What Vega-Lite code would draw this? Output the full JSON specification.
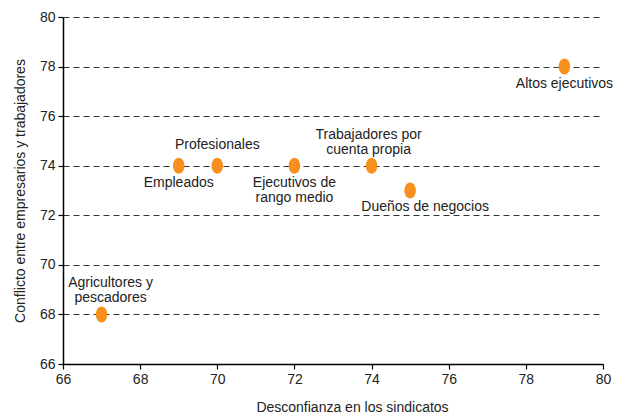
{
  "$schema": "https://vega.github.io/schema/vega-lite/v6.json",
  "width": 540,
  "height": 347,
  "autosize": {"type": "none"},
  "padding": {"left": 63, "top": 17, "right": 16, "bottom": 51},
  "background": "white",
  "config": {
    "view": {"stroke": null},
    "font": "Liberation Sans",
    "axis": {
      "labelFont": "Liberation Sans",
      "titleFont": "Liberation Sans",
      "labelFontSize": 14,
      "titleFontSize": 14,
      "titleFontWeight": "normal",
      "labelColor": "#222",
      "titleColor": "#222",
      "domainColor": "#000",
      "domainWidth": 1.5,
      "tickColor": "#000",
      "tickSize": 5,
      "tickWidth": 1.2,
      "labelFlush": false
    }
  },
  "data": {
    "values": [
      {"grupo": "Agricultores y pescadores", "lineas": ["Agricultores y", "pescadores"], "sindicatos": 67, "conflicto": 68, "pos": "arriba"},
      {"grupo": "Empleados", "lineas": ["Empleados"], "sindicatos": 69, "conflicto": 74, "pos": "abajo"},
      {"grupo": "Profesionales", "lineas": ["Profesionales"], "sindicatos": 70, "conflicto": 74, "pos": "arriba"},
      {"grupo": "Ejecutivos de rango medio", "lineas": ["Ejecutivos de", "rango medio"], "sindicatos": 72, "conflicto": 74, "pos": "abajo"},
      {"grupo": "Trabajadores por cuenta propia", "lineas": ["Trabajadores por", "cuenta propia"], "sindicatos": 74, "conflicto": 74, "pos": "arriba"},
      {"grupo": "Dueños de negocios", "lineas": ["Dueños de negocios"], "sindicatos": 75, "conflicto": 73, "pos": "abajo"},
      {"grupo": "Altos ejecutivos", "lineas": ["Altos ejecutivos"], "sindicatos": 79, "conflicto": 78, "pos": "abajo"}
    ]
  },
  "encoding": {
    "x": {
      "field": "sindicatos", "type": "quantitative",
      "scale": {"domain": [66, 80], "nice": false, "zero": false},
      "axis": {"values": [66, 68, 70, 72, 74, 76, 78, 80], "grid": false, "title": "Desconfianza en los sindicatos", "titlePadding": 14, "titleX": 289, "labelPadding": 3}
    },
    "y": {
      "field": "conflicto", "type": "quantitative",
      "scale": {"domain": [66, 80], "nice": false, "zero": false},
      "axis": {"values": [66, 68, 70, 72, 74, 76, 78, 80], "grid": true, "gridColor": "#333", "gridDash": [6, 4], "gridWidth": 1, "title": "Conflicto entre empresarios y trabajadores", "titlePadding": 12, "labelPadding": 3}
    }
  },
  "layer": [
    {
      "mark": {"type": "point", "shape": "M -0.72 0 A 0.72 1 0 1 0 0.72 0 A 0.72 1 0 1 0 -0.72 0 Z", "size": 256, "filled": true, "color": "#f7901e", "opacity": 1}
    },
    {
      "transform": [{"filter": "datum.grupo === 'Profesionales'"}],
      "mark": {"type": "text", "baseline": "bottom", "align": "center", "dy": -14, "fontSize": 14, "color": "#222", "lineHeight": 15},
      "encoding": {"text": {"field": "lineas"}}
    },
    {
      "transform": [{"filter": "datum.grupo === 'Trabajadores por cuenta propia'"}],
      "mark": {"type": "text", "baseline": "bottom", "align": "center", "dy": -24, "dx": -3, "fontSize": 14, "color": "#222", "lineHeight": 15},
      "encoding": {"text": {"field": "lineas"}}
    },
    {
      "transform": [{"filter": "datum.grupo === 'Agricultores y pescadores'"}],
      "mark": {"type": "text", "baseline": "bottom", "align": "center", "dy": -24, "dx": 9, "fontSize": 14, "color": "#222", "lineHeight": 15},
      "encoding": {"text": {"field": "lineas"}}
    },
    {
      "transform": [{"filter": "datum.pos === 'abajo' && datum.grupo !== 'Dueños de negocios'"}],
      "mark": {"type": "text", "baseline": "top", "align": "center", "dy": 10, "fontSize": 14, "color": "#222", "lineHeight": 15},
      "encoding": {"text": {"field": "lineas"}}
    },
    {
      "transform": [{"filter": "datum.grupo === 'Dueños de negocios'"}],
      "mark": {"type": "text", "baseline": "top", "align": "center", "dy": 9, "dx": 15, "fontSize": 14, "color": "#222", "lineHeight": 15},
      "encoding": {"text": {"field": "lineas"}}
    }
  ]
}
